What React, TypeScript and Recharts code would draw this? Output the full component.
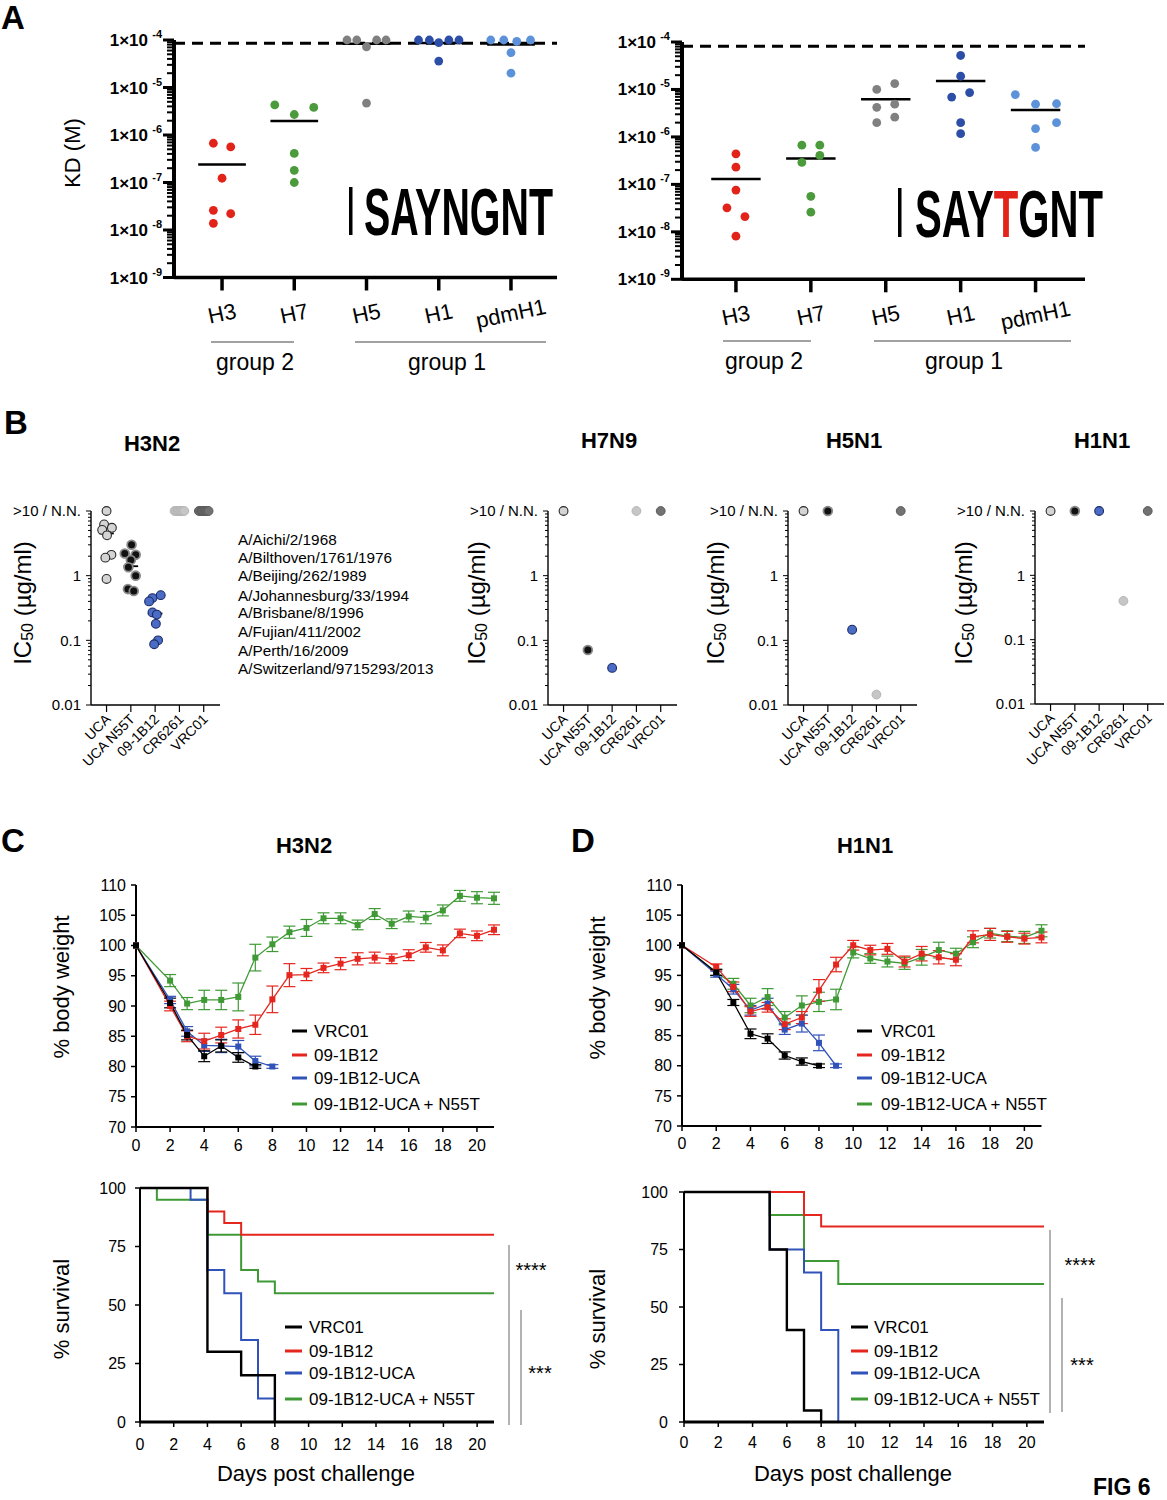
import React from 'react';
import { ScatterChart, Scatter, LineChart, Line, XAxis, YAxis, ReferenceLine, ErrorBar } from 'recharts';

const FONT = '"Liberation Sans", Arial, Helvetica, sans-serif';
const NARROW = '"Liberation Sans Narrow", "Arial Narrow", "Liberation Sans", Arial, sans-serif';

// ---------- A: KD (M) ----------
const KD_CATS = ['H3', 'H7', 'H5', 'H1', 'pdmH1'];
const KD_MAJOR = [1e-9, 1e-8, 1e-7, 1e-6, 1e-5, 1e-4];
const KD_EXPONENTS = [-9, -8, -7, -6, -5, -4];
const KD_COLORS = ['#e2231a', '#4b9a3c', '#808080', '#2d4ea7', '#5c92da'];

// SAYNGNT
const NG_H3 = [6.7e-7, 5.6e-7, 1.23e-7, 2.6e-8, 2.2e-8, 1.38e-8];
const NG_H7 = [4.3e-6, 2.7e-6, 3.8e-6, 4.1e-7, 1.8e-7, 1.0e-7];
const NG_H5 = [1e-4, 1e-4, 1e-4, 1e-4, 7.2e-5, 4.7e-6];
const NG_H1 = [1e-4, 1e-4, 1e-4, 1e-4, 8.8e-5, 3.6e-5];
const NG_PDM = [1e-4, 1e-4, 9.4e-5, 1e-4, 5.4e-5, 2.0e-5];
const NG_JIT = [
  [-0.12, 0.12, 0, -0.12, 0.12, -0.12],
  [-0.27, 0, 0.27, 0, 0, 0],
  [-0.27, -0.135, 0.14, 0.27, 0, 0],
  [-0.28, -0.13, 0.14, 0.28, 0, 0],
  [-0.28, -0.1, 0.08, 0.27, 0, 0],
];
const NG_MEAN = [2.4e-7, 1.97e-6, 8.3e-5, 8.6e-5, 8.0e-5];
const NG_CUTOFF = 8.5e-5;

// SAYTGNT
const TG_H3 = [4.4e-7, 2.3e-7, 7.6e-8, 3.2e-8, 2.1e-8, 8.1e-9];
const TG_H7 = [6.7e-7, 6.7e-7, 4.1e-7, 2.9e-7, 5.6e-8, 2.6e-8];
const TG_H5 = [1.33e-5, 1.0e-5, 4.9e-6, 4.2e-6, 2.6e-6, 2.0e-6];
const TG_H1 = [5.2e-5, 1.9e-5, 8.6e-6, 6.9e-6, 2.0e-6, 1.17e-6];
const TG_PDM = [7.8e-6, 5.0e-6, 4.9e-6, 2.0e-6, 1.5e-6, 6.0e-7];
const TG_JIT = [
  [0, 0, 0, -0.12, 0.12, 0],
  [-0.12, 0.12, 0.12, -0.12, 0, 0],
  [0.12, -0.12, 0.12, -0.12, 0.12, -0.12],
  [0, 0, 0.12, -0.12, 0, 0],
  [-0.27, 0.28, 0, 0.28, 0, 0],
];
const TG_MEAN = [1.3e-7, 3.5e-7, 6.2e-6, 1.5e-5, 3.7e-6];
const TG_CUTOFF = 8.1e-5;

// ---------- B: IC50 ----------
const IC_ABS = ['UCA', 'UCA N55T', '09-1B12', 'CR6261', 'VRC01'];
const IC_MAJOR = [0.01, 0.1, 1, 10];
const IC_MAJOR_LABELS = ['0.01', '0.1', '1', '>10 / N.N.'];
const H3N2_UCA = [10, 6.2, 5.5, 5.1, 4.2, 2.1, 1.9, 0.89];
const H3N2_N55T = [3.0, 2.2, 2.1, 1.75, 1.35, 1.0, 0.62, 0.58];
const H3N2_1B12 = [0.5, 0.45, 0.4, 0.27, 0.25, 0.18, 0.1, 0.087];
const H3N2_CR6261 = [10, 10, 10, 10, 10, 10, 10, 10];
const H3N2_VRC01 = [10, 10, 10, 10, 10, 10, 10, 10];
const H3N2_JIT = [
  [0, -0.1, 0.22, -0.18, 0.02, 0.2, -0.05, 0],
  [0.03, -0.25, 0.2, 0, -0.1, 0.2, -0.12, 0.12],
  [0.23, -0.11, -0.25, -0.11, 0.07, 0.03, 0.12, -0.04],
  [-0.2, -0.14, -0.08, -0.03, 0.03, 0.08, 0.14, 0.2],
  [-0.2, -0.14, -0.08, -0.03, 0.03, 0.08, 0.14, 0.2],
];
const H3N2_MEAN = [4.5, 1.4, 0.26];
const H7N9_IC50 = [10, 0.071, 0.0375, 10, 10];
const H5N1_IC50 = [10, 10, 0.146, 0.0145, 10];
const H1N1_IC50 = [10, 10, 10, 0.4, 10];
const STRAINS = [
  'A/Aichi/2/1968',
  'A/Bilthoven/1761/1976',
  'A/Beijing/262/1989',
  'A/Johannesburg/33/1994',
  'A/Brisbane/8/1996',
  'A/Fujian/411/2002',
  'A/Perth/16/2009',
  'A/Switzerland/9715293/2013',
];

// ---------- C/D: weight + survival ----------
const SERIES_NAMES = ['VRC01', '09-1B12', '09-1B12-UCA', '09-1B12-UCA + N55T'];
const SERIES_COLORS = ['#000000', '#e5261f', '#3152b8', '#3f9a36'];
const DRAW_ORDER = [3, 2, 1, 0];
const DAY_TICKS = [0, 2, 4, 6, 8, 10, 12, 14, 16, 18, 20];
const WEIGHT_TICKS = [70, 75, 80, 85, 90, 95, 100, 105, 110];
const SURV_TICKS = [0, 25, 50, 75, 100];
const WEIGHT_DAYS = [0, 2, 3, 4, 5, 6, 7, 8, 9, 10, 11, 12, 13, 14, 15, 16, 17, 18, 19, 20, 21];

const C_VRC01 = [100, 90.5, 85.2, 81.7, 83.4, 81.5, 80.0];
const C_VRC01_ERR = [0, 0.8, 0.8, 0.9, 1.0, 0.8, 0.3];
const C_1B12 = [100, 90.0, 85.0, 84.2, 85.2, 86.2, 86.9, 91.1, 95.1, 95.2, 96.3, 97.0, 97.8, 98.0, 97.8, 98.4, 99.7, 99.2, 102.0, 101.6, 102.6];
const C_1B12_ERR = [0, 0.8, 0.9, 1.3, 1.3, 1.5, 1.6, 2.2, 1.9, 1.0, 0.8, 1.0, 1.0, 0.9, 0.8, 0.9, 0.8, 0.9, 0.7, 0.8, 0.8];
const C_UCA = [100, 91.0, 85.8, 83.5, 83.4, 83.3, 80.9, 80.0];
const C_UCA_ERR = [0, 0.6, 0.8, 1.0, 1.1, 1.0, 0.8, 0.3];
const C_N55T = [100, 94.2, 90.4, 91.0, 91.0, 91.5, 98.0, 100.2, 102.2, 102.9, 104.5, 104.5, 103.4, 105.2, 103.6, 104.8, 104.6, 105.8, 108.2, 107.9, 107.8];
const C_N55T_ERR = [0, 1.0, 1.0, 1.6, 1.6, 2.3, 2.2, 1.2, 1.0, 1.4, 0.9, 0.9, 0.8, 0.9, 0.8, 0.9, 1.0, 0.9, 0.9, 1.0, 1.0];

const D_VRC01 = [100, 95.5, 90.5, 85.3, 84.5, 81.7, 80.7, 80.0];
const D_VRC01_ERR = [0, 0.5, 0.5, 0.8, 0.8, 0.6, 0.6, 0.3];
const D_1B12 = [100, 96.4, 93.1, 89.0, 89.7, 86.9, 88.0, 92.5, 96.8, 100.0, 99.2, 99.4, 97.3, 98.6, 98.0, 97.6, 101.4, 101.8, 101.4, 101.1, 101.3];
const D_1B12_ERR = [0, 0.5, 0.8, 0.8, 0.8, 0.9, 1.0, 1.8, 1.2, 0.8, 0.8, 0.9, 0.9, 1.2, 1.1, 1.0, 1.0, 1.0, 0.9, 0.9, 0.9];
const D_UCA = [100, 95.2, 92.7, 89.2, 90.3, 86.0, 87.0, 83.8, 80.0];
const D_UCA_ERR = [0, 0.5, 0.8, 0.8, 0.9, 0.8, 1.4, 1.3, 0.3];
const D_N55T = [100, 95.5, 93.6, 90.0, 91.4, 88.0, 90.0, 90.6, 91.0, 98.8, 97.8, 97.3, 97.0, 98.0, 99.2, 98.6, 100.5, 102.0, 101.5, 101.3, 102.4];
const D_N55T_ERR = [0, 0.5, 0.9, 1.2, 1.4, 1.0, 1.6, 1.6, 1.7, 0.9, 0.8, 0.9, 1.0, 1.3, 1.3, 0.9, 0.9, 0.8, 0.9, 1.0, 1.0];

// survival steps: change days / percent
const CS_VRC01_DAY = [0, 4, 6, 8];
const CS_VRC01 = [100, 30, 20, 0];
const CS_1B12_DAY = [0, 4, 5, 6, 21];
const CS_1B12 = [100, 90, 85, 80, 80];
const CS_UCA_DAY = [0, 3, 4, 5, 6, 7, 8];
const CS_UCA = [100, 95, 65, 55, 35, 10, 0];
const CS_N55T_DAY = [0, 1, 4, 6, 7, 8, 21];
const CS_N55T = [100, 95, 80, 65, 60, 55, 55];

const DS_VRC01_DAY = [0, 5, 6, 7, 8];
const DS_VRC01 = [100, 75, 40, 5, 0];
const DS_1B12_DAY = [0, 7, 8, 21];
const DS_1B12 = [100, 90, 85, 85];
const DS_UCA_DAY = [0, 5, 7, 8, 9];
const DS_UCA = [100, 75, 65, 40, 0];
const DS_N55T_DAY = [0, 5, 7, 9, 21];
const DS_N55T = [100, 90, 70, 60, 60];

type Box = { l: number; t: number; r: number; b: number };

function frame(box: Box, yw: number, xh: number, pad = 14) {
  return {
    style: { position: 'absolute' as const, left: box.l - yw, top: box.t - pad },
    width: yw + (box.r - box.l) + pad,
    height: pad + (box.b - box.t) + xh,
    margin: { top: pad, right: pad, bottom: 0, left: 0 },
  };
}

const KD_TICKS = [
  ...KD_MAJOR,
  ...KD_MAJOR.slice(0, -1).flatMap((m) => [2, 3, 4, 5, 6, 7, 8, 9].map((k) => k * m)),
];
const IC_TICKS = [
  ...IC_MAJOR,
  ...IC_MAJOR.slice(0, -1).flatMap((m) => [2, 3, 4, 5, 6, 7, 8, 9].map((k) => k * m)),
];

function KdYTick({ x, y, payload }: any) {
  const idx = KD_MAJOR.findIndex((m) => Math.abs(payload.value / m - 1) < 1e-6);
  const major = idx >= 0;
  return (
    <g>
      <line x1={x - (major ? 11 : 7)} x2={x} y1={y} y2={y} stroke="#000" strokeWidth={major ? 3 : 2} />
      {major && (
        <g fontWeight="bold" fill="#000">
          <text x={x - 26} y={y + 6} textAnchor="end" fontSize={17}>1×10</text>
          <text x={x - 12} y={y - 2} textAnchor="end" fontSize={11}>{KD_EXPONENTS[idx]}</text>
        </g>
      )}
    </g>
  );
}

function KdXTick({ x, y, payload }: any) {
  const cy = y + 36;
  return (
    <g>
      <line x1={x} x2={x} y1={y} y2={y + 13} stroke="#000" strokeWidth={3.5} />
      <text x={x} y={cy} textAnchor="middle" dominantBaseline="central" fontSize={22} fill="#000"
        transform={`rotate(-12 ${x} ${cy})`}>
        {KD_CATS[Math.round(payload.value) - 1]}
      </text>
    </g>
  );
}

function KdPanel({ box, domX, values, jit, means, cutoff }: any) {
  const f = frame(box, 130, 70);
  return (
    <div style={f.style}>
      <ScatterChart width={f.width} height={f.height} margin={f.margin}>
        <XAxis type="number" dataKey="x" domain={domX} ticks={[1, 2, 3, 4, 5]} interval={0} height={70}
          tickSize={0} tickMargin={0} tickLine={false} axisLine={{ stroke: '#000', strokeWidth: 3.5 }}
          tick={(p: any) => <KdXTick {...p} />} />
        <YAxis type="number" dataKey="y" scale="log" domain={[1e-9, 1e-4]} ticks={KD_TICKS} interval={0}
          width={130} tickSize={0} tickMargin={0} tickLine={false} axisLine={{ stroke: '#000', strokeWidth: 4 }}
          tick={(p: any) => <KdYTick {...p} />} />
        <ReferenceLine y={cutoff} stroke="#000" strokeWidth={3} strokeDasharray="11 7" />
        {values.map((vals: number[], i: number) => (
          <Scatter key={KD_CATS[i]} isAnimationActive={false}
            data={vals.map((v, j) => ({ x: i + 1 + jit[i][j], y: v }))}
            shape={(p: any) => <circle cx={p.cx} cy={p.cy} r={4.4} fill={KD_COLORS[i]} />} />
        ))}
        {means.map((m: number, i: number) => (
          <ReferenceLine key={'m' + i} segment={[{ x: i + 0.67, y: m }, { x: i + 1.33, y: m }]}
            stroke="#000" strokeWidth={2.5} />
        ))}
      </ScatterChart>
    </div>
  );
}

const IC_STYLE = [
  { fill: '#d4d4d4', stroke: '#2a2a2a', sw: 1.1 },
  { fill: '#111111', stroke: '#8a8a8a', sw: 1.8 },
  { fill: '#4a6cc6', stroke: '#1c2c66', sw: 1.1 },
  { fill: '#c6c6c6', stroke: '#b4b4b4', sw: 1 },
  { fill: '#727272', stroke: '#5a5a5a', sw: 1 },
];

function IcYTick({ x, y, payload }: any) {
  const idx = IC_MAJOR.findIndex((m) => Math.abs(payload.value / m - 1) < 1e-6);
  const major = idx >= 0;
  return (
    <g>
      <line x1={x - (major ? 5 : 3)} x2={x} y1={y} y2={y} stroke="#000" strokeWidth={1} />
      {major && (
        <text x={x - 10} y={y} dy="0.35em" textAnchor="end" fontSize={15} fill="#000">{IC_MAJOR_LABELS[idx]}</text>
      )}
    </g>
  );
}

function IcXTick({ x, y, payload }: any) {
  const tx = x + 5;
  const ty = y + 15;
  return (
    <g>
      <line x1={x} x2={x} y1={y} y2={y + 7} stroke="#000" strokeWidth={1.2} />
      <text x={tx} y={ty} textAnchor="end" fontSize={14} fill="#000" transform={`rotate(-45 ${tx} ${ty})`}>
        {IC_ABS[Math.round(payload.value) - 1]}
      </text>
    </g>
  );
}

function IcPanel({ box, values, jit, means }: any) {
  const f = frame(box, 90, 70, 12);
  return (
    <div style={f.style}>
      <ScatterChart width={f.width} height={f.height} margin={f.margin}>
        <XAxis type="number" dataKey="x" domain={[0.36, 5.67]} ticks={[1, 2, 3, 4, 5]} interval={0} height={70}
          tickSize={0} tickMargin={0} tickLine={false} axisLine={{ stroke: '#000', strokeWidth: 1.4 }}
          tick={(p: any) => <IcXTick {...p} />} />
        <YAxis type="number" dataKey="y" scale="log" domain={[0.01, 10]} ticks={IC_TICKS} interval={0}
          width={90} tickSize={0} tickMargin={0} tickLine={false} axisLine={{ stroke: '#000', strokeWidth: 1.4 }}
          tick={(p: any) => <IcYTick {...p} />} />
        {values.map((vals: number[], i: number) => (
          <Scatter key={IC_ABS[i]} isAnimationActive={false}
            data={vals.map((v, j) => ({ x: i + 1 + jit[i][j], y: v }))}
            shape={(p: any) => (
              <circle cx={p.cx} cy={p.cy} r={4.4} fill={IC_STYLE[i].fill} stroke={IC_STYLE[i].stroke}
                strokeWidth={IC_STYLE[i].sw} />
            )} />
        ))}
        {(means || []).map((m: number, i: number) => (
          <ReferenceLine key={'m' + i} segment={[{ x: i + 0.7, y: m }, { x: i + 1.3, y: m }]}
            stroke="#000" strokeWidth={1.8} />
        ))}
      </ScatterChart>
    </div>
  );
}

function weightRows(series: number[][], errs: number[][]) {
  return WEIGHT_DAYS.map((day, i) => {
    const row: any = { day };
    series.forEach((s, k) => {
      if (i < s.length) {
        row['s' + k] = s[i];
        row['e' + k] = errs[k][i];
      }
    });
    return row;
  });
}

const squareDot = (color: string) => (p: any) => {
  if (p.cx == null || p.cy == null || p.value == null) return <g key={'n' + p.index} />;
  return <rect key={'d' + p.index} x={p.cx - 3} y={p.cy - 3} width={6} height={6} fill={color} />;
};

function WeightPanel({ box, rows, xMargin }: any) {
  const f = frame(box, 50, 40);
  return (
    <div style={f.style}>
      <LineChart width={f.width} height={f.height} margin={f.margin} data={rows}>
        <XAxis type="number" dataKey="day" domain={[0, 21]} ticks={DAY_TICKS} interval={0} height={40}
          tick={{ fill: '#000', fontSize: 16 }} tickSize={5} tickMargin={xMargin}
          axisLine={{ stroke: '#000', strokeWidth: 2 }} tickLine={{ stroke: '#000', strokeWidth: 1.5 }} />
        <YAxis type="number" domain={[70, 110]} ticks={WEIGHT_TICKS} interval={0} width={50}
          tick={{ fill: '#000', fontSize: 16 }} tickSize={5} tickMargin={5}
          axisLine={{ stroke: '#000', strokeWidth: 2 }} tickLine={{ stroke: '#000', strokeWidth: 1.5 }} />
        {DRAW_ORDER.map((k) => (
          <Line key={k} dataKey={'s' + k} stroke={SERIES_COLORS[k]} strokeWidth={1.3} isAnimationActive={false}
            dot={squareDot(SERIES_COLORS[k])} activeDot={false}>
            <ErrorBar dataKey={'e' + k} width={6} stroke={SERIES_COLORS[k]} strokeWidth={1.2} direction="y" />
          </Line>
        ))}
      </LineChart>
    </div>
  );
}

function SurvivalPanel({ box, curves, xMargin, yMargin }: any) {
  const f = frame(box, 60, 50);
  return (
    <div style={f.style}>
      <LineChart width={f.width} height={f.height} margin={f.margin}>
        <XAxis type="number" dataKey="day" domain={[0, 21]} ticks={DAY_TICKS} interval={0} height={50}
          tick={{ fill: '#000', fontSize: 16 }} tickSize={5} tickMargin={xMargin}
          axisLine={{ stroke: '#000', strokeWidth: 3 }} tickLine={{ stroke: '#000', strokeWidth: 1.5 }} />
        <YAxis type="number" dataKey="v" domain={[0, 100]} ticks={SURV_TICKS} interval={0} width={60}
          tick={{ fill: '#000', fontSize: 16 }} tickSize={5} tickMargin={yMargin}
          axisLine={{ stroke: '#000', strokeWidth: 2 }} tickLine={{ stroke: '#000', strokeWidth: 1.5 }} />
        {DRAW_ORDER.map((k) => (
          <Line key={k} data={curves[k]} dataKey="v" type="stepAfter" stroke={SERIES_COLORS[k]}
            strokeWidth={k === 0 ? 2.4 : 2} dot={false} activeDot={false} isAnimationActive={false} />
        ))}
      </LineChart>
    </div>
  );
}

const steps = (days: number[], vals: number[]) => days.map((day, i) => ({ day, v: vals[i] }));

function Legend({ x1, x2, tx, ys }: any) {
  return (
    <g>
      {SERIES_NAMES.map((n, i) => (
        <g key={n}>
          <line x1={x1} x2={x2} y1={ys[i]} y2={ys[i]} stroke={SERIES_COLORS[i]} strokeWidth={3} />
          <text x={tx} y={ys[i]} dominantBaseline="central" fontSize={17} fill="#000">{n}</text>
        </g>
      ))}
    </g>
  );
}

function Rot({ x, y, size, children }: any) {
  return (
    <text transform={`translate(${x},${y}) rotate(-90)`} textAnchor="middle" dominantBaseline="central"
      fontSize={size} fill="#000">
      {children}
    </text>
  );
}

function Annotations() {
  const ic = (x: number) => (
    <Rot x={x} y={603} size={24}>
      IC<tspan fontSize={16} dy={5}>50</tspan><tspan dy={-5}> (µg/ml)</tspan>
    </Rot>
  );
  const W_LEG = [1031, 1055, 1078, 1104];
  const S_LEG = [1327, 1351, 1373, 1399];
  return (
    <svg width={1167} height={1500} style={{ position: 'absolute', left: 0, top: 0, pointerEvents: 'none' }}>
      <g fontWeight="bold" fontSize={33} fill="#000">
        <text x={1} y={29}>A</text>
        <text x={4} y={434}>B</text>
        <text x={1} y={852}>C</text>
        <text x={571} y={852}>D</text>
      </g>
      {/* A */}
      <Rot x={72} y={153} size={22}>KD (M)</Rot>
      <g stroke="#444" strokeWidth={1.2}>
        <line x1={211} x2={294} y1={342} y2={342} />
        <line x1={355} x2={546} y1={342} y2={342} />
        <line x1={723} x2={811} y1={341} y2={341} />
        <line x1={874} x2={1071} y1={341} y2={341} />
      </g>
      <g fontSize={23} textAnchor="middle" dominantBaseline="central" fill="#000">
        <text x={255} y={362}>group 2</text>
        <text x={447} y={362}>group 1</text>
        <text x={764} y={361}>group 2</text>
        <text x={964} y={361}>group 1</text>
      </g>
      <rect x={349} y={187} width={3.5} height={48} fill="#000" />
      <text x={364} y={235} fontSize={67} fontWeight="bold" fontFamily={NARROW} textLength={189}
        lengthAdjust="spacingAndGlyphs" fill="#000">SAYNGNT</text>
      <rect x={898} y={188} width={3.5} height={49} fill="#000" />
      <text x={915} y={237} fontSize={67} fontWeight="bold" fontFamily={NARROW} textLength={188}
        lengthAdjust="spacingAndGlyphs" fill="#000">SAY<tspan fill="#e2231a">T</tspan>GNT</text>
      {/* B */}
      <g fontSize={22} fontWeight="bold" textAnchor="middle" dominantBaseline="central" fill="#000">
        <text x={152} y={443}>H3N2</text>
        <text x={609} y={440}>H7N9</text>
        <text x={854} y={440}>H5N1</text>
        <text x={1102} y={440}>H1N1</text>
      </g>
      {ic(22)}
      {ic(476)}
      {ic(715)}
      {ic(963)}
      <g fontSize={15.3} dominantBaseline="central" fill="#000">
        {STRAINS.map((s, i) => (
          <text key={s} x={238} y={[539, 557, 575, 595, 612, 631, 650, 668][i]}>{s}</text>
        ))}
      </g>
      {/* C / D */}
      <g fontSize={22} fontWeight="bold" textAnchor="middle" dominantBaseline="central" fill="#000">
        <text x={304} y={845}>H3N2</text>
        <text x={865} y={845}>H1N1</text>
      </g>
      <Rot x={61} y={987} size={22}>% body weight</Rot>
      <Rot x={597} y={988} size={22}>% body weight</Rot>
      <Rot x={61} y={1309} size={22}>% survival</Rot>
      <Rot x={597} y={1319} size={22}>% survival</Rot>
      <g fontSize={22} textAnchor="middle" dominantBaseline="central" fill="#000">
        <text x={316} y={1473}>Days post challenge</text>
        <text x={853} y={1473}>Days post challenge</text>
      </g>
      <Legend x1={292} x2={307} tx={314} ys={W_LEG} />
      <Legend x1={857} x2={872} tx={881} ys={W_LEG} />
      <Legend x1={285} x2={302} tx={309} ys={S_LEG} />
      <Legend x1={851} x2={868} tx={874} ys={S_LEG} />
      <g stroke="#999" strokeWidth={1.5}>
        <line x1={509} x2={509} y1={1245} y2={1425} />
        <line x1={521} x2={521} y1={1310} y2={1425} />
        <line x1={1050} x2={1050} y1={1230} y2={1413} />
        <line x1={1062} x2={1062} y1={1298} y2={1412} />
      </g>
      <g fontSize={20} textAnchor="middle" fill="#000">
        <text x={531} y={1277}>****</text>
        <text x={540} y={1380}>***</text>
        <text x={1080} y={1272}>****</text>
        <text x={1082} y={1372}>***</text>
      </g>
      <text x={1093} y={1495} fontSize={23} fontWeight="bold" fill="#000">FIG 6</text>
    </svg>
  );
}

export default function App() {
  const cRows = weightRows([C_VRC01, C_1B12, C_UCA, C_N55T], [C_VRC01_ERR, C_1B12_ERR, C_UCA_ERR, C_N55T_ERR]);
  const dRows = weightRows([D_VRC01, D_1B12, D_UCA, D_N55T], [D_VRC01_ERR, D_1B12_ERR, D_UCA_ERR, D_N55T_ERR]);
  const cSurv = [
    steps(CS_VRC01_DAY, CS_VRC01),
    steps(CS_1B12_DAY, CS_1B12),
    steps(CS_UCA_DAY, CS_UCA),
    steps(CS_N55T_DAY, CS_N55T),
  ];
  const dSurv = [
    steps(DS_VRC01_DAY, DS_VRC01),
    steps(DS_1B12_DAY, DS_1B12),
    steps(DS_UCA_DAY, DS_UCA),
    steps(DS_N55T_DAY, DS_N55T),
  ];
  const single = (vals: number[]) => vals.map((v) => [v]);
  const zero = [[0], [0], [0], [0], [0]];
  return (
    <div style={{ position: 'absolute', left: 0, top: 0, width: 1167, height: 1500, overflow: 'hidden',
      background: '#fff', fontFamily: FONT, color: '#000' }}>
      <KdPanel box={{ l: 174, t: 40, r: 557, b: 277.5 }} domX={[0.335, 5.637]}
        values={[NG_H3, NG_H7, NG_H5, NG_H1, NG_PDM]} jit={NG_JIT} means={NG_MEAN} cutoff={NG_CUTOFF} />
      <KdPanel box={{ l: 682, t: 41.7, r: 1085, b: 279 }} domX={[0.28, 5.66]}
        values={[TG_H3, TG_H7, TG_H5, TG_H1, TG_PDM]} jit={TG_JIT} means={TG_MEAN} cutoff={TG_CUTOFF} />
      <IcPanel box={{ l: 91, t: 510.5, r: 220, b: 704.5 }}
        values={[H3N2_UCA, H3N2_N55T, H3N2_1B12, H3N2_CR6261, H3N2_VRC01]} jit={H3N2_JIT} means={H3N2_MEAN} />
      <IcPanel box={{ l: 548, t: 510.5, r: 677, b: 704.5 }} values={single(H7N9_IC50)} jit={zero} />
      <IcPanel box={{ l: 788, t: 510.5, r: 917, b: 704.5 }} values={single(H5N1_IC50)} jit={zero} />
      <IcPanel box={{ l: 1035, t: 510.5, r: 1164, b: 703.5 }} values={single(H1N1_IC50)} jit={zero} />
      <WeightPanel box={{ l: 136, t: 885, r: 494, b: 1127 }} rows={cRows} xMargin={8} />
      <WeightPanel box={{ l: 682, t: 885, r: 1041.5, b: 1126 }} rows={dRows} xMargin={7} />
      <SurvivalPanel box={{ l: 140, t: 1188, r: 494, b: 1422 }} curves={cSurv} xMargin={12} yMargin={9} />
      <SurvivalPanel box={{ l: 684, t: 1192, r: 1044, b: 1422 }} curves={dSurv} xMargin={10} yMargin={11} />
      <Annotations />
    </div>
  );
}
